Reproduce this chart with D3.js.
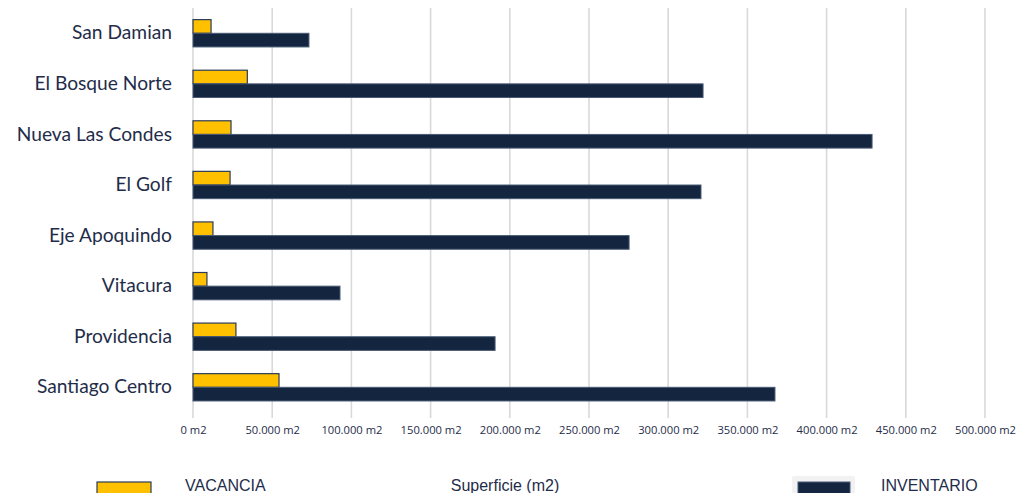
<!DOCTYPE html>
<html><head><meta charset="utf-8">
<script src="https://cdn.jsdelivr.net/npm/d3@7"></script>
<style>body{margin:0;background:#fff}svg{display:block}</style>
</head><body>
<svg id="c" width="1032" height="493"></svg>
<script>
const categories = ["San Damian","El Bosque Norte","Nueva Las Condes","El Golf","Eje Apoquindo","Vitacura","Providencia","Santiago Centro"];
const vacancia = [11400, 34300, 24000, 23400, 12600, 8800, 27100, 54300];
const inventario = [73200, 322000, 428700, 320700, 275300, 92800, 190700, 367400];
const tickValues = [0,50000,100000,150000,200000,250000,300000,350000,400000,450000,500000];
const seriesNames = ["VACANCIA","INVENTARIO"];
const axisTitle = "Superficie (m2)";

const svg = d3.select("#c");
const x = d3.scaleLinear().domain([0,500000]).range([193,985]);
const y = d3.scaleBand().domain(categories).range([8,412.6]).paddingInner(0.46).paddingOuter(0.23);
const fmt = v => d3.format(",")(v).replace(/,/g,".") + " m2";

// gridlines
svg.append("g").selectAll("line").data(tickValues).join("line")
  .attr("x1",d=>x(d)).attr("x2",d=>x(d)).attr("y1",8).attr("y2",418)
  .attr("stroke","#d9d9d9").attr("stroke-width",1.6);

// axis
const ax = svg.append("g").attr("transform","translate(0,412)")
  .call(d3.axisBottom(x).tickValues(tickValues).tickFormat(fmt).tickSize(0).tickPadding(14));
ax.select(".domain").remove();
ax.selectAll("text").attr("font-family","'Open Sans', sans-serif").attr("font-size",11.2).attr("fill","#1f2d4a");

// category labels
const ay = svg.append("g").attr("transform","translate(180,0)")
  .call(d3.axisLeft(y).tickSize(0).tickPadding(8));
ay.select(".domain").remove();
ay.selectAll("text").attr("font-family","Lato, 'Open Sans', sans-serif").attr("font-size",19.2).attr("fill","#1f2d4a").attr("dy","0.32em");

const bh = y.bandwidth()/2;
const g = svg.append("g");
g.selectAll("rect.v").data(categories).join("rect").attr("class","v")
  .attr("x",x(0)).attr("y",d=>y(d)).attr("width",(d,i)=>x(vacancia[i])-x(0)).attr("height",bh)
  .attr("fill","#ffc000").attr("stroke","#2b3b58").attr("stroke-width",1.2);
g.selectAll("rect.n").data(categories).join("rect").attr("class","n")
  .attr("x",x(0)).attr("y",d=>y(d)+bh).attr("width",(d,i)=>x(inventario[i])-x(0)).attr("height",bh)
  .attr("fill","#13253f").attr("stroke","#4a5a74").attr("stroke-width",1);

// legend
const lf = "'Liberation Sans', Arial, sans-serif";
svg.append("rect").attr("x",97).attr("y",482).attr("width",54).attr("height",14)
  .attr("fill","#ffc000").attr("stroke","#2b3b58").attr("stroke-width",1.2);
svg.append("text").attr("x",185).attr("y",491).text(seriesNames[0])
  .attr("font-family",lf).attr("font-size",16).attr("fill","#1f2d4a");
svg.append("text").attr("x",505).attr("y",491).attr("text-anchor","middle").text(axisTitle)
  .attr("font-family",lf).attr("font-size",16).attr("fill","#1f2d4a");
svg.append("rect").attr("x",792).attr("y",476).attr("width",63).attr("height",20).attr("rx",2).attr("fill","#f2f2f2");
svg.append("rect").attr("x",798).attr("y",482).attr("width",52).attr("height",14)
  .attr("fill","#13253f").attr("stroke","#4a5a74").attr("stroke-width",1);
svg.append("text").attr("x",881).attr("y",491).text(seriesNames[1])
  .attr("font-family",lf).attr("font-size",16).attr("fill","#1f2d4a");
</script>
</body></html>
